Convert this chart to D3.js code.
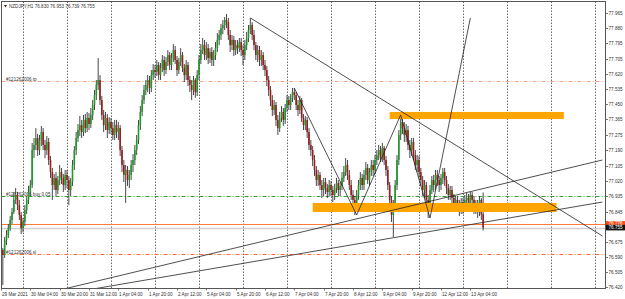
<!DOCTYPE html>
<html>
<head>
<meta charset="utf-8">
<script src="https://cdn.jsdelivr.net/npm/d3@7"></script>
<style>
  body { margin: 0; background: #fff; }
  svg { display: block; font-family: "Liberation Sans", Arial, sans-serif; }
</style>
</head>
<body>
<script>
// NZDJPY H1 bars, 29 Mar 12:00 -> 13 Apr 11:00 (open = previous close)
const firstOpen = 76.657;
const closes = [
  76.629,76.601,76.685,76.713,76.753,76.798,76.843,76.911,76.939,76.882,76.826,76.753,76.787,76.854,76.911,76.956,
  76.995,77.192,77.221,77.260,77.192,77.249,77.294,77.221,77.192,77.238,77.136,77.068,76.995,77.035,76.967,77.023,
  77.068,77.035,76.995,77.052,77.023,76.967,77.012,77.108,77.192,77.260,77.305,77.333,77.294,77.362,77.316,77.373,
  77.339,77.390,77.446,77.502,77.559,77.587,77.474,77.390,77.333,77.373,77.305,77.350,77.316,77.277,77.333,77.294,
  77.316,77.192,77.108,77.052,77.080,77.023,77.052,77.108,77.136,77.192,77.249,77.333,77.407,77.474,77.531,77.559,
  77.587,77.542,77.615,77.643,77.632,77.672,77.615,77.655,77.700,77.643,77.689,77.728,77.672,77.711,77.756,77.700,
  77.643,77.689,77.728,77.655,77.615,77.672,77.587,77.559,77.531,77.587,77.519,77.615,77.700,77.756,77.784,77.728,
  77.767,77.711,77.745,77.700,77.728,77.767,77.813,77.841,77.880,77.897,77.925,77.914,77.841,77.784,77.813,77.756,
  77.784,77.767,77.801,77.756,77.728,77.784,77.824,77.869,77.897,77.841,77.784,77.728,77.756,77.700,77.728,77.672,
  77.643,77.587,77.531,77.474,77.418,77.446,77.362,77.316,77.373,77.407,77.362,77.429,77.474,77.446,77.486,77.519,
  77.502,77.446,77.418,77.474,77.373,77.333,77.362,77.294,77.221,77.192,77.136,77.080,77.023,77.052,76.995,76.967,
  77.012,76.978,76.956,76.995,76.967,76.939,76.978,77.006,76.967,76.990,77.035,77.068,77.108,77.052,76.995,76.939,
  76.911,76.866,76.939,76.995,77.035,76.995,77.052,77.091,77.023,77.068,77.108,77.080,77.136,77.164,77.192,77.147,
  77.204,77.136,77.080,76.995,76.911,76.826,76.882,76.995,77.136,77.277,77.350,77.316,77.277,77.305,77.221,77.192,
  77.238,77.164,77.108,77.136,77.068,77.023,76.967,76.995,76.911,76.882,76.967,77.023,76.995,77.052,77.023,76.995,
  77.035,77.068,77.023,76.978,76.939,76.967,76.922,76.882,76.911,76.882,76.854,76.899,76.866,76.911,76.922,76.882,
  76.939,76.911,76.866,76.882,76.843,76.911,76.830,76.755
];
const highs = [
  76.685,76.640,76.702,76.741,76.775,76.820,76.866,76.956,76.978,76.956,76.911,76.843,76.809,76.882,76.933,76.990,
  77.023,77.232,77.260,77.316,77.283,77.277,77.328,77.316,77.249,77.271,77.260,77.159,77.091,77.057,77.068,77.046,
  77.108,77.091,77.057,77.080,77.080,77.046,77.035,77.136,77.215,77.294,77.339,77.384,77.362,77.390,77.395,77.407,
  77.401,77.429,77.474,77.531,77.587,77.711,77.615,77.497,77.418,77.407,77.395,77.378,77.373,77.350,77.362,77.362,
  77.350,77.333,77.215,77.136,77.108,77.102,77.080,77.136,77.170,77.221,77.277,77.362,77.440,77.502,77.559,77.587,
  77.615,77.610,77.643,77.677,77.672,77.700,77.689,77.683,77.728,77.722,77.717,77.756,77.745,77.739,77.790,77.779,
  77.722,77.711,77.767,77.745,77.677,77.700,77.689,77.610,77.587,77.610,77.598,77.643,77.728,77.790,77.824,77.813,
  77.801,77.790,77.767,77.773,77.756,77.801,77.852,77.869,77.903,77.925,77.942,77.959,77.937,77.869,77.841,77.835,
  77.813,77.813,77.824,77.824,77.784,77.813,77.858,77.897,77.937,77.914,77.869,77.801,77.784,77.779,77.756,77.745,
  77.700,77.666,77.610,77.553,77.502,77.474,77.463,77.390,77.407,77.440,77.429,77.452,77.502,77.497,77.508,77.542,
  77.542,77.519,77.474,77.497,77.486,77.395,77.384,77.378,77.316,77.249,77.215,77.164,77.102,77.080,77.068,77.023,
  77.035,77.035,77.001,77.023,77.018,76.990,77.001,77.035,77.023,77.012,77.068,77.102,77.147,77.136,77.080,77.023,
  76.967,76.933,76.967,77.023,77.068,77.057,77.080,77.125,77.114,77.091,77.136,77.136,77.164,77.192,77.221,77.215,
  77.232,77.215,77.159,77.102,77.012,76.933,76.911,77.023,77.164,77.305,77.390,77.373,77.350,77.339,77.328,77.249,
  77.260,77.260,77.192,77.164,77.159,77.091,77.046,77.023,77.012,76.939,76.995,77.046,77.052,77.080,77.080,77.046,
  77.057,77.091,77.091,77.046,77.001,76.990,76.990,76.944,76.933,76.933,76.911,76.922,76.922,76.939,76.950,76.944,
  76.956,76.956,76.933,76.911,76.911,76.933,76.922,76.953
];
const lows = [
  76.561,76.431,76.584,76.657,76.696,76.736,76.775,76.832,76.888,76.854,76.798,76.719,76.730,76.764,76.832,76.888,
  76.933,76.978,77.147,77.192,77.159,77.164,77.215,77.192,77.147,77.164,77.108,77.035,76.911,76.967,76.933,76.944,
  76.995,77.001,76.956,76.967,76.978,76.882,76.933,76.990,77.080,77.164,77.238,77.271,77.260,77.271,77.288,77.294,
  77.305,77.316,77.362,77.418,77.474,77.531,77.446,77.362,77.294,77.305,77.260,77.283,77.283,77.249,77.249,77.260,
  77.249,77.159,77.068,77.012,76.894,76.990,76.978,77.023,77.068,77.108,77.164,77.226,77.305,77.384,77.452,77.502,
  77.519,77.508,77.519,77.587,77.598,77.610,77.587,77.587,77.632,77.610,77.621,77.666,77.643,77.643,77.689,77.677,
  77.610,77.621,77.666,77.632,77.576,77.587,77.553,77.519,77.474,77.502,77.486,77.497,77.587,77.677,77.734,77.700,
  77.700,77.677,77.683,77.666,77.666,77.700,77.745,77.784,77.813,77.846,77.869,77.880,77.813,77.745,77.756,77.722,
  77.728,77.734,77.745,77.722,77.672,77.700,77.756,77.801,77.846,77.813,77.756,77.700,77.689,77.666,77.666,77.643,
  77.610,77.553,77.497,77.440,77.384,77.390,77.328,77.277,77.294,77.350,77.328,77.339,77.407,77.418,77.418,77.463,
  77.474,77.418,77.384,77.395,77.350,77.305,77.305,77.260,77.192,77.159,77.102,77.046,76.990,76.990,76.967,76.922,
  76.933,76.944,76.922,76.933,76.933,76.899,76.911,76.950,76.933,76.933,76.967,77.012,77.046,77.023,76.967,76.911,
  76.877,76.826,76.843,76.911,76.967,76.967,76.967,77.023,77.001,76.990,77.046,77.046,77.057,77.108,77.136,77.125,
  77.125,77.108,77.046,76.967,76.877,76.787,76.702,76.854,76.967,77.108,77.249,77.283,77.238,77.238,77.192,77.147,
  77.159,77.136,77.080,77.068,77.035,76.990,76.933,76.922,76.877,76.809,76.854,76.944,76.956,76.967,76.990,76.956,
  76.967,77.001,76.990,76.944,76.911,76.911,76.888,76.854,76.854,76.843,76.820,76.832,76.832,76.843,76.877,76.854,
  76.854,76.877,76.832,76.832,76.809,76.820,76.798,76.739
];

// axis labels
const priceTicks = ["77.965","77.880","77.795","77.705","77.620","77.535","77.450","77.365","77.275","77.190",
  "77.105","77.020","76.935","76.845","76.760","76.675","76.590","76.505","76.420"];
const timeLabels = ["29 Mar 2021","30 Mar 04:00","30 Mar 20:00","31 Mar 12:00","1 Apr 04:00","1 Apr 20:00",
  "2 Apr 12:00","5 Apr 04:00","5 Apr 20:00","6 Apr 12:00","7 Apr 04:00","7 Apr 20:00","8 Apr 12:00",
  "9 Apr 04:00","9 Apr 20:00","12 Apr 12:00","13 Apr 04:00"];
const barsPerLabel = 16;
const daySeparators = [12, 36, 60, 84, 108, 132, 156, 180, 204, 228, 252, 276, 300, 324];

// order / price levels
const levelPrices = [77.581, 76.933, 76.606];
const levelNames = ["#121262006 tp", "#121262006 buy 0.05", "#121262006 sl"];
const levelColors = ["#f5a385", "#2ca02c", "#ff6a3d"];
const markPrice = 76.776, bidPrice = 76.755;

// zones (bar index from/to, price top/bottom)
const zoneFrom = [212, 170], zoneTo = [307, 303];
const zoneTop = [77.407, 76.894], zoneBottom = [77.367, 76.843];

// trend lines: [bar, price] pairs
const trendLines = [
  [[136, 77.937], [328, 76.708]],
  [[32, 76.403], [328, 77.136]],
  [[47, 76.403], [328, 76.899]],
  [[160, 77.542], [194, 76.826]],
  [[194, 76.826], [218, 77.390]],
  [[218, 77.390], [234, 76.809]],
  [[234, 76.809], [256, 77.937]]
];

const W = 625, H = 299;
const pL = 1.5, pR = 605.5, pT = 1.5, pB = 288.5;

const svg = d3.select("body").append("svg").attr("width", W).attr("height", H);

const x = d3.scaleLinear().domain([0, 12]).range([1, 23]);
const y = d3.scaleLinear().domain([76.420, 77.965]).range([287, 13]);

svg.append("clipPath").attr("id", "plot")
  .append("rect").attr("x", pL).attr("y", pT).attr("width", pR - pL).attr("height", pB - pT);

const plot = svg.append("g").attr("clip-path", "url(#plot)");

// vertical dotted grid
plot.selectAll(".grid").data(daySeparators).enter().append("line")
  .attr("x1", d => x(d) + 0.5).attr("x2", d => x(d) + 0.5)
  .attr("y1", pT).attr("y2", pB)
  .attr("stroke", "#444").attr("stroke-width", 0.8).attr("stroke-dasharray", "1.5,1.5");

// order levels
plot.selectAll(".lvl").data(levelPrices).enter().append("line")
  .attr("x1", pL).attr("x2", pR)
  .attr("y1", d => Math.round(y(d)) + 0.5).attr("y2", d => Math.round(y(d)) + 0.5)
  .attr("stroke", (d, i) => levelColors[i]).attr("stroke-width", 1)
  .attr("stroke-dasharray", "4,2,1,2");

plot.selectAll(".lvlText").data(levelPrices).enter().append("text")
  .attr("x", 6).attr("y", d => Math.round(y(d)) - 0.5)
  .attr("font-size", 4.6).attr("fill", "#333")
  .text((d, i) => levelNames[i]);

// bid & mark lines
plot.append("line").attr("x1", pL).attr("x2", pR)
  .attr("y1", Math.round(y(bidPrice)) + 0.5).attr("y2", Math.round(y(bidPrice)) + 0.5)
  .attr("stroke", "#d0d0d0").attr("stroke-width", 1.4);
plot.append("line").attr("x1", pL).attr("x2", pR)
  .attr("y1", Math.round(y(markPrice)) + 0.5).attr("y2", Math.round(y(markPrice)) + 0.5)
  .attr("stroke", "#ff7a3a").attr("stroke-width", 1.2);

// candles
const bars = closes.map((c, i) => ({ i: i, o: i ? closes[i - 1] : firstOpen, h: highs[i], l: lows[i], c: c }));

plot.selectAll(".wick").data(bars).enter().append("line")
  .attr("x1", d => x(d.i)).attr("x2", d => x(d.i))
  .attr("y1", d => y(d.h)).attr("y2", d => y(d.l))
  .attr("stroke", "#333").attr("stroke-width", 0.9);

plot.selectAll(".body").data(bars).enter().append("rect")
  .attr("x", d => x(d.i) - 0.8).attr("width", 1.6)
  .attr("y", d => y(Math.max(d.o, d.c)))
  .attr("height", d => Math.max(0.8, Math.abs(y(d.o) - y(d.c))))
  .attr("fill", d => d.c >= d.o ? "#1f9a2a" : "#9b1c1c");

// zones
plot.selectAll(".zone").data(zoneFrom).enter().append("rect")
  .attr("x", d => x(d)).attr("width", (d, i) => x(zoneTo[i]) - x(d))
  .attr("y", (d, i) => y(zoneTop[i]))
  .attr("height", (d, i) => y(zoneBottom[i]) - y(zoneTop[i]))
  .attr("fill", "#ffa500");

// trend lines
plot.selectAll(".trend").data(trendLines).enter().append("line")
  .attr("x1", d => x(d[0][0])).attr("y1", d => y(d[0][1]))
  .attr("x2", d => x(d[1][0])).attr("y2", d => y(d[1][1]))
  .attr("stroke", "#222").attr("stroke-width", 0.8);

// frame
svg.append("rect").attr("x", pL).attr("y", pT).attr("width", pR - pL).attr("height", pB - pT)
  .attr("fill", "none").attr("stroke", "#555").attr("stroke-width", 1);

// price axis
const ax = svg.append("g");
priceTicks.forEach(t => {
  const py = Math.round(y(+t)) + 0.5;
  ax.append("line").attr("x1", pR).attr("x2", pR + 2.5).attr("y1", py).attr("y2", py)
    .attr("stroke", "#555").attr("stroke-width", 0.8);
  ax.append("text").attr("x", pR + 3).attr("y", py).attr("dy", "0.35em")
    .attr("font-size", 4.6).attr("fill", "#333").text(t);
});

// price tags on axis
[[markPrice, "#ff4d1a"], [bidPrice, "#111"]].forEach(p => {
  const py = y(p[0]);
  ax.append("rect").attr("x", pR + 0.5).attr("y", py - 2.8).attr("width", 19).attr("height", 5.6).attr("fill", p[1]);
  ax.append("text").attr("x", pR + 3).attr("y", py).attr("dy", "0.35em")
    .attr("font-size", 4.6).attr("fill", "#fff").text(p[0].toFixed(3));
});

// time axis
timeLabels.forEach((t, k) => {
  const px = Math.round(x(k * barsPerLabel)) + 0.5;
  ax.append("line").attr("x1", px).attr("x2", px).attr("y1", pB).attr("y2", pB + 2)
    .attr("stroke", "#555").attr("stroke-width", 0.8);
  ax.append("text").attr("x", px + 0.5).attr("y", pB + 7)
    .attr("font-size", 4.6).attr("fill", "#333").text(t);
});

// title
svg.append("path").attr("d", "M4,5 L7,5 L5.5,7.5 Z").attr("fill", "#222");
svg.append("text").attr("x", 9).attr("y", 7.5).attr("font-size", 4.6).attr("fill", "#333")
  .text("NZDJPY,H1  76.830 76.953 76.739 76.755");
</script>
</body>
</html>
